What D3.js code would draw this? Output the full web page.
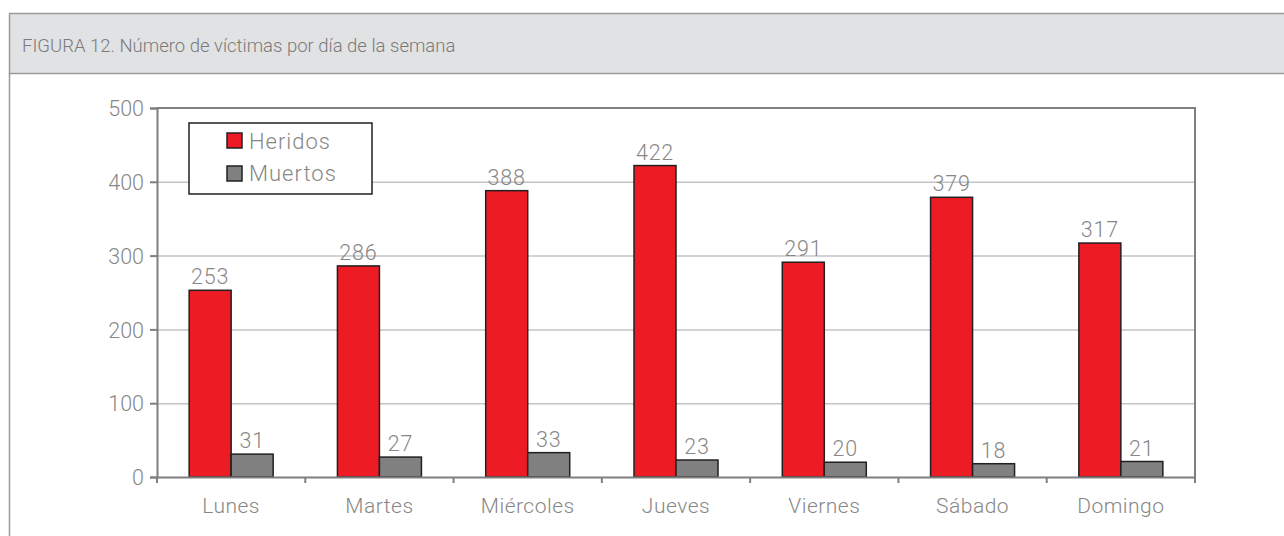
<!DOCTYPE html>
<html>
<head>
<meta charset="utf-8">
<script src="https://cdn.jsdelivr.net/npm/d3@7"></script>
<style>
  html, body { margin: 0; padding: 0; background: #fff; }
  svg { display: block; }
</style>
</head>
<body>
<div id="chart"></div>
<script>
// Víctimas por día de la semana
var days = ['Lunes', 'Martes', 'Miércoles', 'Jueves', 'Viernes', 'Sábado', 'Domingo'];
var heridos = [253, 286, 388, 422, 291, 379, 317];
var muertos = [31, 27, 33, 23, 20, 18, 21];
var seriesNames = ['Heridos', 'Muertos'];
var yTicks = [0, 100, 200, 300, 400, 500];

(function(){
  var W = 1284, H = 536;
  var margin = { top: 108, right: 89, bottom: 59, left: 157 };
  var width = W - margin.left - margin.right;
  var height = H - margin.top - margin.bottom;
  var font = 'Roboto, "DejaVu Sans", sans-serif';
  var textCol = '#878787';
  var colors = ['#ed1c24', '#808080'];

  var svg = d3.select('#chart').append('svg')
    .attr('width', W).attr('height', H)
    .style('font-family', font);

  // Header band + frame
  svg.append('rect')
    .attr('x', 9.5).attr('y', 13.5).attr('width', W).attr('height', 60)
    .attr('fill', '#e1e2e4').attr('stroke', '#9a9a9a').attr('stroke-width', 1.5);
  svg.append('line')
    .attr('x1', 9.5).attr('x2', 9.5).attr('y1', 73).attr('y2', H)
    .attr('stroke', '#9a9a9a').attr('stroke-width', 1.5);
  svg.append('text')
    .attr('x', 22).attr('y', 52)
    .style('font-size', '18.5px').style('fill', '#7a7a7a').style('font-weight', 300)
    .text('FIGURA 12. Número de víctimas por día de la semana');

  var g = svg.append('g').attr('transform', 'translate(' + margin.left + ',' + margin.top + ')');

  var x0 = d3.scaleBand().domain(days).range([0, width]);
  var x1 = d3.scaleBand().domain(seriesNames).range([0, 84]);
  var y = d3.scaleLinear().domain([0, 500]).range([height, 0]);

  // Gridlines
  g.append('g')
    .call(d3.axisLeft(y).tickValues(yTicks.slice(1, -1)).tickSize(-width).tickFormat(''))
    .call(function(s){ s.select('.domain').remove(); })
    .selectAll('line').attr('stroke', '#c4c4c4').attr('stroke-width', 1.5);

  // Plot frame (top + right)
  g.append('path')
    .attr('d', 'M0,0H' + width + 'V' + height)
    .attr('fill', 'none').attr('stroke', '#7f7f7f').attr('stroke-width', 2);

  // Y axis
  var ay = g.append('g')
    .call(d3.axisLeft(y).tickValues(yTicks).tickSize(7).tickPadding(6));
  ay.selectAll('path, line').attr('stroke', '#7f7f7f').attr('stroke-width', 2);
  ay.selectAll('text').attr('dy', '0.36em')
    .style('fill', textCol).style('font-size', '21.5px').style('font-family', font).style('font-weight', 300);

  // Bars
  var rows = days.map(function(d, i){ return { day: d, vals: [heridos[i], muertos[i]] }; });
  var grp = g.selectAll('.day').data(rows).enter().append('g')
    .attr('transform', function(d){ return 'translate(' + (x0(d.day) + (x0.bandwidth() - 84) / 2) + ',0)'; });

  var cells = grp.selectAll('.cell').data(function(d){
    return d.vals.map(function(v, i){ return { s: seriesNames[i], v: v, i: i }; });
  }).enter();

  cells.append('rect')
    .attr('x', function(d){ return x1(d.s); })
    .attr('y', function(d){ return y(d.v); })
    .attr('width', x1.bandwidth())
    .attr('height', function(d){ return height - y(d.v); })
    .attr('fill', function(d){ return colors[d.i]; })
    .attr('stroke', '#231f20').attr('stroke-width', 1.5);

  cells.append('text')
    .attr('x', function(d){ return x1(d.s) + x1.bandwidth() / 2; })
    .attr('y', function(d){ return y(d.v) - 6; })
    .attr('text-anchor', 'middle')
    .style('fill', textCol).style('font-size', '21.5px').style('font-weight', 300)
    .style('letter-spacing', '0.8px')
    .text(function(d){ return d.v; });

  // X axis
  var ax = g.append('g').attr('transform', 'translate(0,' + height + ')')
    .call(d3.axisBottom(x0).tickSize(0).tickPadding(21));
  ax.select('.domain').attr('stroke', '#7f7f7f').attr('stroke-width', 2);
  ax.selectAll('text').style('fill', textCol).style('font-size', '21px').style('font-family', font)
    .style('font-weight', 300).style('letter-spacing', '0.5px');
  // category separators
  g.append('g').selectAll('line').data(days.concat(['end'])).enter().append('line')
    .attr('x1', function(d, i){ return i * x0.step(); })
    .attr('x2', function(d, i){ return i * x0.step(); })
    .attr('y1', height).attr('y2', height + 6)
    .attr('stroke', '#7f7f7f').attr('stroke-width', 2);

  // Legend
  var lg = svg.append('g').attr('transform', 'translate(189,123)');
  lg.append('rect').attr('width', 183).attr('height', 71)
    .attr('fill', '#fff').attr('stroke', '#231f20').attr('stroke-width', 1.5);
  seriesNames.forEach(function(n, i){
    lg.append('rect').attr('x', 38).attr('y', 10 + i * 33).attr('width', 15).attr('height', 15)
      .attr('fill', colors[i]).attr('stroke', '#231f20').attr('stroke-width', 1.5);
    lg.append('text').attr('x', 60).attr('y', 26 + i * 32)
      .style('fill', textCol).style('font-size', '22px').style('font-weight', 300)
      .style('letter-spacing', '1px')
      .text(n);
  });
})();
</script>
</body>
</html>
